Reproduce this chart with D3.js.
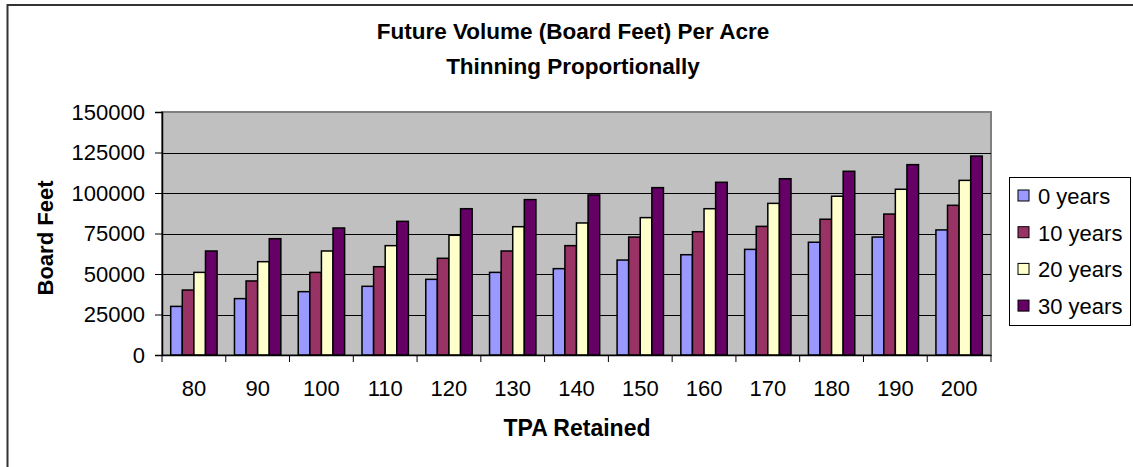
<!DOCTYPE html>
<html>
<head>
<meta charset="utf-8">
<script src="https://cdn.jsdelivr.net/npm/d3@7"></script>
<style>
  body { margin: 0; background: #fff; }
  svg { display: block; font-family: "Liberation Sans", Arial, sans-serif; }
</style>
</head>
<body>
<svg id="chart" width="1133" height="467"></svg>
<script>
// data
var tpa = ["80", "90", "100", "110", "120", "130", "140", "150", "160", "170", "180", "190", "200"];
var seriesNames = ["0 years", "10 years", "20 years", "30 years"];
var years0 = [30000, 34800, 39100, 42400, 46700, 51000, 53300, 58600, 61900, 65200, 69600, 72800, 77200];
var years10 = [40100, 45700, 51000, 54500, 59700, 64200, 67500, 72800, 76100, 79400, 83800, 87000, 92400];
var years20 = [51000, 57600, 64200, 67500, 73900, 79200, 81500, 84800, 90300, 93600, 98000, 102300, 107800];
var years30 = [64200, 71800, 78400, 82500, 90300, 95900, 98800, 103300, 106600, 108800, 113400, 117500, 122800];
var yTicks = [0, 25000, 50000, 75000, 100000, 125000, 150000];
var colors = ["#9999FF", "#993366", "#FFFFCC", "#660066"];

var allSeries = [years0, years10, years20, years30];

var svg = d3.select("#chart");

// outer chart frame (right/bottom edges fall outside the picture)
svg.append("rect")
  .attr("x", 7.5).attr("y", 5).attr("width", 1140).attr("height", 480)
  .attr("fill", "#fff").attr("stroke", "#333").attr("stroke-width", 2);

var plot = { left: 162, top: 112, right: 991, bottom: 355 };

var x0 = d3.scaleBand().domain(tpa).range([plot.left, plot.right]);
var bw = x0.bandwidth();
var gap = bw * 1.5 / 5.5;
var x1 = d3.scaleBand().domain(seriesNames).range([gap / 2, bw - gap / 2]);
var y = d3.scaleLinear().domain([0, 150000]).range([plot.bottom, plot.top]);

// plot background
svg.append("rect")
  .attr("x", plot.left).attr("y", plot.top)
  .attr("width", plot.right - plot.left).attr("height", plot.bottom - plot.top)
  .attr("fill", "#C0C0C0").attr("stroke", "#808080").attr("stroke-width", 2);

// gridlines
svg.append("g").selectAll("line")
  .data(yTicks.slice(1, -1))
  .join("line")
  .attr("x1", plot.left).attr("x2", plot.right)
  .attr("y1", d => Math.round(y(d)) + 0.5).attr("y2", d => Math.round(y(d)) + 0.5)
  .attr("stroke", "#000").attr("stroke-width", 1);

// bars
var groups = svg.append("g").selectAll("g")
  .data(tpa)
  .join("g")
  .attr("transform", d => "translate(" + x0(d) + ",0)");

groups.selectAll("rect")
  .data((d, i) => allSeries.map((s, j) => ({ name: seriesNames[j], value: s[i], color: colors[j] })))
  .join("rect")
  .attr("x", d => x1(d.name))
  .attr("y", d => y(d.value))
  .attr("width", x1.bandwidth())
  .attr("height", d => plot.bottom - y(d.value))
  .attr("fill", d => d.color)
  .attr("stroke", "#000").attr("stroke-width", 1.5);

// y axis
var yAxis = svg.append("g")
  .attr("transform", "translate(" + plot.left + ",0)")
  .call(d3.axisLeft(y).tickValues(yTicks).tickFormat(d3.format("d")).tickSize(7).tickPadding(10));
yAxis.select(".domain").attr("stroke", "#000").attr("stroke-width", 1.5);
yAxis.selectAll("text").attr("font-size", 22).attr("fill", "#000")
  .attr("font-family", "Liberation Sans, Arial, sans-serif");

// x axis
var xAxis = svg.append("g")
  .attr("transform", "translate(0," + plot.bottom + ")")
  .call(d3.axisBottom(x0).tickSize(0).tickPadding(25));
xAxis.select(".domain").attr("stroke", "#000").attr("stroke-width", 1.5);
xAxis.selectAll("text").attr("font-size", 22).attr("fill", "#000")
  .attr("font-family", "Liberation Sans, Arial, sans-serif");
// tick marks sit between categories
xAxis.selectAll(".sep")
  .data(d3.range(tpa.length + 1))
  .join("line")
  .attr("class", "sep")
  .attr("x1", i => plot.left + i * bw).attr("x2", i => plot.left + i * bw)
  .attr("y1", 0).attr("y2", 7)
  .attr("stroke", "#000");

// titles
svg.append("text")
  .attr("x", 573).attr("y", 39)
  .attr("text-anchor", "middle").attr("font-weight", "bold").attr("font-size", 22.5)
  .text("Future Volume (Board Feet) Per Acre");
svg.append("text")
  .attr("x", 573).attr("y", 74)
  .attr("text-anchor", "middle").attr("font-weight", "bold").attr("font-size", 22.5)
  .text("Thinning Proportionally");

svg.append("text")
  .attr("x", 577).attr("y", 436)
  .attr("text-anchor", "middle").attr("font-weight", "bold").attr("font-size", 23)
  .text("TPA Retained");

svg.append("text")
  .attr("transform", "translate(53,238) rotate(-90)")
  .attr("text-anchor", "middle").attr("font-weight", "bold").attr("font-size", 22)
  .text("Board Feet");

// legend
var legend = svg.append("g");
legend.append("rect")
  .attr("x", 1009.5).attr("y", 177.5).attr("width", 121).attr("height", 148)
  .attr("fill", "#fff").attr("stroke", "#000").attr("stroke-width", 1);

var items = legend.selectAll("g.item")
  .data(seriesNames)
  .join("g")
  .attr("class", "item")
  .attr("transform", (d, i) => "translate(1018," + (196 + i * 36.7) + ")");
items.append("rect")
  .attr("x", 0).attr("y", -6).attr("width", 11).attr("height", 11)
  .attr("fill", (d, i) => colors[i]).attr("stroke", "#000").attr("stroke-width", 1);
items.append("text")
  .attr("x", 20).attr("y", 8)
  .attr("font-size", 22)
  .text(d => d);
</script>
</body>
</html>
